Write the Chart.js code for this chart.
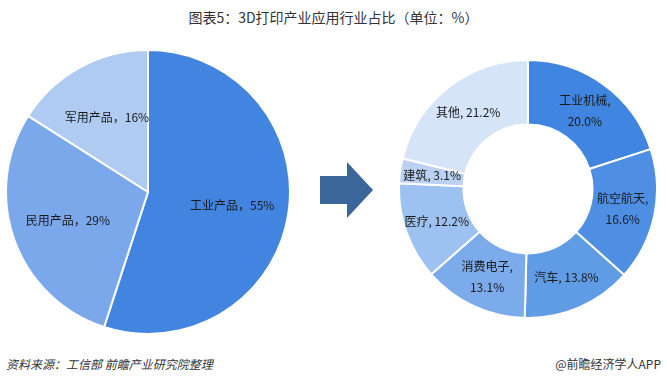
<!DOCTYPE html>
<html>
<head>
<meta charset="utf-8">
<script src="https://cdn.jsdelivr.net/npm/chart.js@4"></script>
<style>
  body { margin: 0; background: #fff; }
  #wrap { position: relative; width: 667px; height: 386px; overflow: hidden; font-family: "Noto Sans CJK SC", "Noto Sans", sans-serif; }
  #title { position: absolute; left: 0; top: 7px; width: 667px; text-align: center; font-size: 14px; color: #333; }
  #source { position: absolute; left: 6px; top: 355px; font-size: 12px; font-style: italic; color: #333; }
  #brand { position: absolute; right: 6px; top: 355px; font-size: 12px; color: #333; }
  #pieCanvas { position: absolute; left: 5px; top: 49px; }
  #ringCanvas { position: absolute; left: 398px; top: 59px; }
  #arrow { position: absolute; left: 318px; top: 160px; }
</style>
</head>
<body>
<div id="wrap">
  <div id="title">图表5：3D打印产业应用行业占比（单位：%）</div>
  <canvas id="pieCanvas" width="286" height="286"></canvas>
  <svg id="arrow" width="60" height="62">
    <polygon points="2,16 29,16 29,2 55,30 29,58 29,44 2,44" fill="#3a6699"/>
  </svg>
  <canvas id="ringCanvas" width="260" height="260"></canvas>
  <div id="source">资料来源：工信部 前瞻产业研究院整理</div>
  <div id="brand">@前瞻经济学人APP</div>
</div>
<script>
// left pie: product types
const productLabels = ["工业产品", "民用产品", "军用产品"];
const productValues = [55, 29, 16];
const productColors = ["#4285e0", "#7aa8ea", "#afcbf2"];

// right doughnut: application industries
const industryLabels = ["工业机械", "航空航天", "汽车", "消费电子", "医疗", "建筑", "其他"];
const industryValues = [20.0, 16.6, 13.8, 13.1, 12.2, 3.1, 21.2];
const industryColors = ["#4085e0", "#4e8fe3", "#609be6", "#7cabeb", "#9dc1f0", "#bad1f3", "#d6e4f8"];
const twoLine = ["工业机械", "航空航天", "消费电子"];

// draws text labels inside each slice
const sliceLabels = {
  id: "sliceLabels",
  afterDatasetsDraw(chart, args, opts) {
    const ctx = chart.ctx;
    const meta = chart.getDatasetMeta(0);
    const data = chart.data.datasets[0].data;
    ctx.save();
    ctx.font = "12px 'Noto Sans CJK SC', sans-serif";
    ctx.fillStyle = "#1a1a1a";
    ctx.textAlign = "center";
    ctx.textBaseline = "middle";
    meta.data.forEach((arc, i) => {
      const p = arc.getProps(["x", "y", "startAngle", "endAngle", "innerRadius", "outerRadius"], true);
      const mid = (p.startAngle + p.endAngle) / 2;
      const r = p.innerRadius > 0 ? (p.innerRadius + p.outerRadius) / 2 : p.outerRadius * opts.factor;
      const x = p.x + Math.cos(mid) * r;
      const y = p.y + Math.sin(mid) * r;
      const name = chart.data.labels[i];
      const val = opts.format(data[i]);
      if (opts.split && twoLine.includes(name)) {
        ctx.fillText(name + ",", x, y - 10);
        ctx.fillText(val, x, y + 11);
      } else {
        ctx.fillText(name + opts.sep + val, x, y);
      }
    });
    ctx.restore();
  }
};

new Chart(document.getElementById("pieCanvas"), {
  type: "pie",
  data: {
    labels: productLabels,
    datasets: [{
      data: productValues,
      backgroundColor: productColors,
      borderColor: "#fff",
      borderWidth: 2
    }]
  },
  options: {
    responsive: false,
    animation: false,
    plugins: {
      legend: { display: false },
      tooltip: { enabled: false },
      sliceLabels: { factor: 0.6, sep: "，", split: false, format: v => v + "%" }
    }
  },
  plugins: [sliceLabels]
});

new Chart(document.getElementById("ringCanvas"), {
  type: "doughnut",
  data: {
    labels: industryLabels,
    datasets: [{
      data: industryValues,
      backgroundColor: industryColors,
      borderColor: "#fff",
      borderWidth: 2
    }]
  },
  options: {
    responsive: false,
    animation: false,
    cutout: "50%",
    plugins: {
      legend: { display: false },
      tooltip: { enabled: false },
      sliceLabels: { factor: 0.75, sep: ", ", split: true, format: v => v.toFixed(1) + "%" }
    }
  },
  plugins: [sliceLabels]
});
</script>
</body>
</html>
